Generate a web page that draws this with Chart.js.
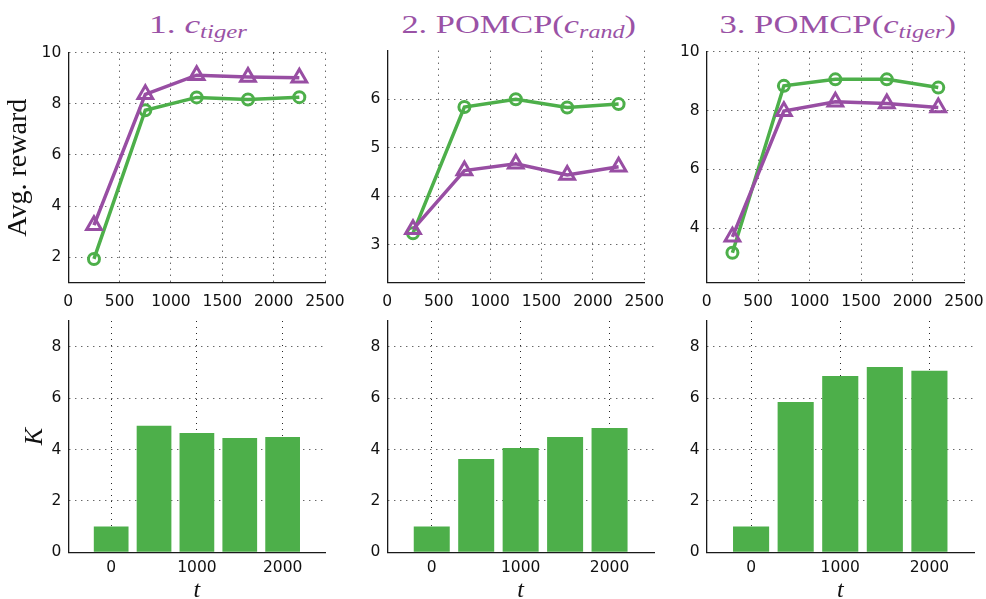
<!DOCTYPE html>
<html>
<head>
<meta charset="utf-8">
<script src="https://cdn.jsdelivr.net/npm/chart.js@4.4.1/dist/chart.umd.min.js"></script>
<style>
html,body{margin:0;padding:0;background:#fff;width:986px;height:599px;overflow:hidden;position:relative;}
canvas{position:absolute;}
.ttl{position:absolute;top:12px;white-space:nowrap;font-family:"Liberation Serif",serif;font-size:26px;line-height:26px;color:#9a52a6;transform-origin:50% 50%;}
.ttl i{font-style:italic;}
.ttl .sb{font-size:70%;font-style:italic;position:relative;top:5px;}
</style>
</head>
<body>
<div class="ttl" id="t1">1. <i>c</i><span class="sb">tiger</span></div>
<div class="ttl" id="t2">2. POMCP(<i>c</i><span class="sb">rand</span>)</div>
<div class="ttl" id="t3">3. POMCP(<i>c</i><span class="sb">tiger</span>)</div>
<canvas id="c1"></canvas>
<canvas id="c2"></canvas>
<canvas id="c3"></canvas>
<canvas id="c4"></canvas>
<canvas id="c5"></canvas>
<canvas id="c6"></canvas>
<script>
// ---------------- data ----------------
const rewardT = [250, 750, 1250, 1750, 2250];
const rewardXTicks = [0, 500, 1000, 1500, 2000, 2500];

const reward1Triangle = [3.25, 8.37, 9.12, 9.05, 9.02];
const reward1Circle   = [1.93, 7.75, 8.25, 8.17, 8.26];
const reward2Triangle = [3.32, 4.53, 4.67, 4.44, 4.61];
const reward2Circle   = [3.24, 5.84, 6.00, 5.83, 5.90];
const reward3Triangle = [3.71, 7.98, 8.30, 8.24, 8.10];
const reward3Circle   = [3.17, 8.84, 9.06, 9.06, 8.78];

const reward1YTicks = [2, 4, 6, 8, 10];
const reward2YTicks = [3, 4, 5, 6];
const reward3YTicks = [4, 6, 8, 10];

const kT = [0, 500, 1000, 1500, 2000];
const kXTicks = [0, 1000, 2000];
const kYTicks = [0, 2, 4, 6, 8];
const k1 = [1.00, 4.92, 4.64, 4.45, 4.49];
const k2 = [1.00, 3.63, 4.06, 4.49, 4.84];
const k3 = [1.00, 5.85, 6.86, 7.21, 7.06];

// ---------------- style ----------------
const GREEN = '#4daf4a';
const PURPLE = '#984ea3';
const GRID = 'rgba(0,0,0,0.85)';
const AXIS = '#1a1a1a';
const TICKFONT = { family: 'DejaVu Sans', size: 15.5 };

function pts(xs, ys) { return xs.map((x, i) => ({ x: x, y: ys[i] })); }

function scale(ticksArr, min, max, isX, box, title) {
  return {
    type: 'linear', min: min, max: max, offset: false,
    afterBuildTicks: s => { s.ticks = ticksArr.map(v => ({ value: v })); },
    afterFit: s => { if (isX) s.height = box.xh; else s.width = box.yw; },
    grid: { color: GRID, lineWidth: 1, drawTicks: false, offset: false, drawOnChartArea: true },
    border: { display: true, color: AXIS, width: 1.3, dash: [1, 5] },
    ticks: { color: '#111', font: TICKFONT, padding: isX ? box.xp : 7, maxRotation: 0, minRotation: 0,
             autoSkip: false, callback: v => String(v) },
    title: title || { display: false }
  };
}

function setup(id, box) {
  const c = document.getElementById(id);
  c.width = box.w; c.height = box.h;
  c.style.left = box.left + 'px'; c.style.top = box.top + 'px';
  c.style.width = box.w + 'px'; c.style.height = box.h + 'px';
  return c;
}

function basePlugins() { return { legend: { display: false }, tooltip: { enabled: false } }; }

function linePanel(id, box, tri, circ, yTicks, yMin, yMax, yTitle) {
  const c = setup(id, box);
  new Chart(c, {
    type: 'line',
    data: { datasets: [
      { data: pts(rewardT, tri), borderColor: PURPLE, borderWidth: 3.5, tension: 0,
        pointStyle: 'triangle', pointRadius: 8.5, pointBorderWidth: 3,
        pointBorderColor: PURPLE, pointBackgroundColor: 'rgba(0,0,0,0)', fill: false },
      { data: pts(rewardT, circ), borderColor: GREEN, borderWidth: 3.5, tension: 0,
        pointStyle: 'circle', pointRadius: 5.5, pointBorderWidth: 3,
        pointBorderColor: GREEN, pointBackgroundColor: 'rgba(0,0,0,0)', fill: false }
    ]},
    options: {
      responsive: false, animation: false, devicePixelRatio: 1,
      layout: { padding: { left: 0, top: box.pt, right: box.pr, bottom: 0 } },
      plugins: basePlugins(),
      scales: {
        x: scale(rewardXTicks, 0, 2500, true, box),
        y: scale(yTicks, yMin, yMax, false, box, yTitle)
      }
    }
  });
}

function barPanel(id, box, vals, yTitle) {
  const c = setup(id, box);
  new Chart(c, {
    type: 'bar',
    data: { datasets: [
      { data: pts(kT, vals), backgroundColor: GREEN, borderWidth: 0,
        categoryPercentage: 0.9, barPercentage: 0.9 }
    ]},
    options: {
      responsive: false, animation: false, devicePixelRatio: 1,
      layout: { padding: { left: 0, top: box.pt, right: box.pr, bottom: 0 } },
      plugins: basePlugins(),
      scales: {
        x: scale(kXTicks, -500, 2500, true, box,
              { display: true, text: 't', color: '#111',
                font: { family: 'Liberation Serif', size: 24, style: 'italic', lineHeight: 1 },
                padding: { top: 0, bottom: 3 } }),
        y: scale(kYTicks, 0, 9, false, box, yTitle)
      }
    }
  });
}

const avgTitle = { display: true, text: 'Avg. reward', color: '#111',
  font: { family: 'Liberation Serif', size: 28, lineHeight: 1 }, padding: { top: 5, bottom: 0 } };
const kTitle = { display: true, text: 'K', color: '#111',
  font: { family: 'Liberation Serif', size: 26, style: 'italic', lineHeight: 1 }, padding: { top: 22, bottom: 0 } };

linePanel('c1', { left: 0,   top: 30, w: 360, h: 286, yw: 68.3, xh: 33.3, xp: 9.7, pt: 22.7, pr: 35 },
          reward1Triangle, reward1Circle, reward1YTicks, 1, 10, avgTitle);
linePanel('c2', { left: 340, top: 30, w: 340, h: 286, yw: 47.3, xh: 33.3, xp: 9.7, pt: 20.7, pr: 35.7 },
          reward2Triangle, reward2Circle, reward2YTicks, 2.22, 7, null);
linePanel('c3', { left: 660, top: 30, w: 340, h: 286, yw: 46.7, xh: 33.3, xp: 9.7, pt: 21.7, pr: 36 },
          reward3Triangle, reward3Circle, reward3YTicks, 2.15, 10, null);

barPanel('c4', { left: 0,   top: 300, w: 346, h: 306, yw: 68.3, xh: 53.7, xp: 6.7, pt: 21, pr: 20.5 }, k1, kTitle);
barPanel('c5', { left: 340, top: 300, w: 334, h: 306, yw: 47.3, xh: 53.7, xp: 6.7, pt: 21, pr: 20 }, k2, null);
barPanel('c6', { left: 660, top: 300, w: 334, h: 306, yw: 46.5, xh: 53.7, xp: 6.7, pt: 21, pr: 20 }, k3, null);

// titles: centre over panels and match the reference width
const titleBoxes = [['t1', 198, 98], ['t2', 518, 234], ['t3', 837, 236]];
titleBoxes.forEach(([id, cx, tw]) => {
  const el = document.getElementById(id);
  const w = el.offsetWidth;
  el.style.left = (cx - w / 2) + 'px';
  el.style.transform = 'scaleX(' + (tw / w) + ')';
});
</script>
</body>
</html>
